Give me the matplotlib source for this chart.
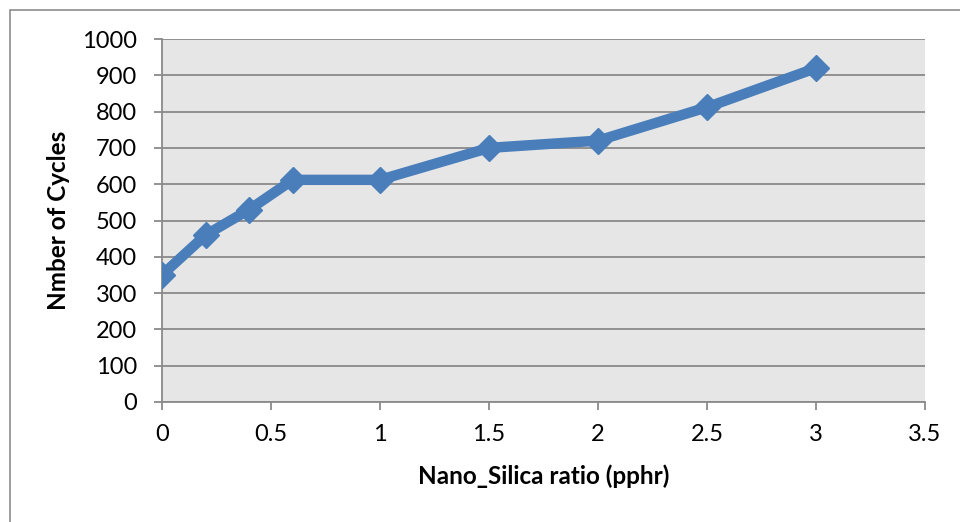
import matplotlib.pyplot as plt
from matplotlib.patches import Rectangle

# Nano-silica content vs. number of cycles
silica_ratio = [0, 0.2, 0.4, 0.6, 1.0, 1.5, 2.0, 2.5, 3.0]
cycles = [350, 460, 530, 612, 612, 700, 720, 812, 920]

x_ticks = [0, 0.5, 1, 1.5, 2, 2.5, 3, 3.5]
x_tick_labels = ['0', '0.5', '1', '1.5', '2', '2.5', '3', '3.5']
y_ticks = list(range(0, 1001, 100))

plt.rcParams['font.family'] = ['Lato', 'DejaVu Sans']

fig = plt.figure(figsize=(9.6, 5.22), dpi=100)
ax = fig.add_axes([162 / 960, 1 - 402 / 522, (925 - 162) / 960, (402 - 39) / 522])

# chart border (left and top edges visible, the rest runs off the canvas)
fig.patches.append(Rectangle((10 / 960, -0.1), 1.2, 1 - 10 / 522 + 0.1,
                             transform=fig.transFigure, fill=False,
                             edgecolor='#8c8c8c', linewidth=1.2))

ax.set_facecolor('#e6e6e6')
ax.plot(silica_ratio, cycles, color='#4a7ebb', linewidth=7.5,
        marker='D', markersize=13, solid_joinstyle='miter', zorder=3)

ax.set_xlim(0, 3.5)
ax.set_ylim(0, 1000)
ax.set_xticks(x_ticks)
ax.set_xticklabels(x_tick_labels)
ax.set_yticks(y_ticks)
ax.yaxis.grid(True, color='#8a8a8a', linewidth=1.3)
ax.set_axisbelow(True)

for side in ['top', 'right']:
    ax.spines[side].set_visible(False)
for side in ['left', 'bottom']:
    ax.spines[side].set_color('#8a8a8a')
    ax.spines[side].set_linewidth(1.3)

ax.tick_params(axis='both', direction='out', length=6, width=1.3,
               color='#8a8a8a', labelsize=17, labelcolor='black')
ax.tick_params(axis='y', pad=12)
ax.tick_params(axis='x', pad=10)

ax.set_xlabel('Nano_Silica ratio (pphr)', fontsize=17.5, fontweight='bold', labelpad=14)
ax.set_ylabel('Nmber of Cycles', fontsize=17.5, fontweight='bold', labelpad=9)

fig.savefig('out.png', dpi=100)
